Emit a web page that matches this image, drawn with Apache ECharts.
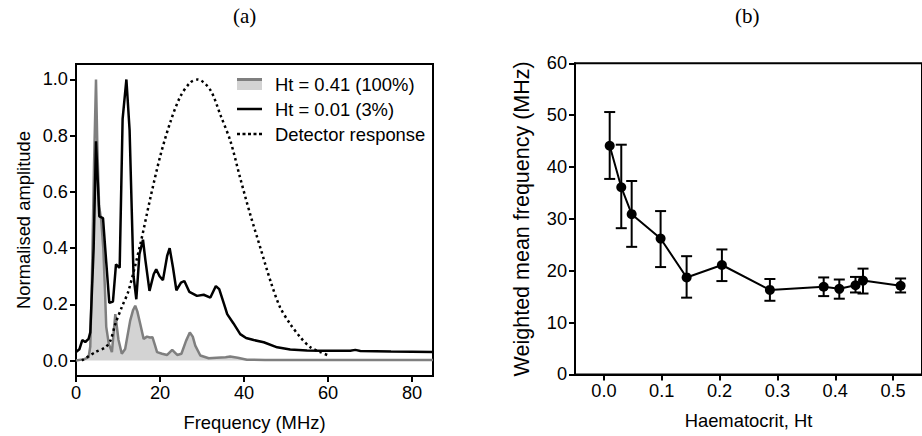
<!DOCTYPE html>
<html>
<head>
<meta charset="utf-8">
<script src="https://cdn.jsdelivr.net/npm/echarts@6/dist/echarts.min.js"></script>
<style>
html,body{margin:0;padding:0;background:#fff;}
#chart{width:922px;height:436px;}
</style>
</head>
<body>
<div id="chart"></div>
<script>
// ---------- Panel (a): spectra ----------
const freqHt041 = [0, 2, 3.0, 3.4, 3.8, 4.3, 4.76, 5.1, 5.5, 6.0, 6.5, 6.9, 7.2, 7.8, 8.55, 9.36, 10.1, 10.9, 11.7, 12.9, 13.6, 14.1, 14.6, 15.3, 16.1, 16.9, 17.6, 18.2, 18.8, 19.3, 20.5, 21.7, 22.9, 24.1, 25.1, 26.2, 27.1, 27.8, 28.4, 29.6, 31.6, 33.5, 35.6, 36.7, 38.5, 40.7, 45, 60, 85];
const ampHt041  = [0, 0.005, 0.012, 0.05, 0.3, 0.7, 1.0, 0.75, 0.55, 0.5, 0.4, 0.25, 0.12, 0.06, 0.03, 0.165, 0.075, 0.024, 0.041, 0.142, 0.18, 0.195, 0.175, 0.13, 0.077, 0.085, 0.082, 0.083, 0.055, 0.03, 0.024, 0.02, 0.038, 0.02, 0.024, 0.07, 0.1, 0.085, 0.053, 0.018, 0.008, 0.01, 0.012, 0.014, 0.01, 0.003, 0.002, 0.002, 0.002];

const freqHt001 = [0, 0.8, 1.5, 2.2, 3.0, 3.4, 4.2, 4.76, 5.55, 6.43, 7.2, 7.93, 8.8, 9.52, 10.4, 11.1, 12.0, 12.76, 13.7, 14.36, 15.1, 15.95, 16.5, 17.5, 18.5, 19.1, 19.9, 20.7, 21.7, 22.3, 23.1, 23.9, 25.0, 25.8, 27.0, 28.8, 30.4, 32.0, 33.3, 34.1, 35.5, 36.0, 37.5, 39.1, 40.5, 42.3, 44.7, 47.9, 51.0, 55, 58.2, 62, 65.3, 66.5, 67.7, 75, 85];
const ampHt001  = [0.03, 0.04, 0.073, 0.066, 0.077, 0.1, 0.4, 0.78, 0.513, 0.507, 0.35, 0.205, 0.21, 0.342, 0.33, 0.86, 1.0, 0.82, 0.30, 0.218, 0.378, 0.43, 0.36, 0.248, 0.307, 0.325, 0.30, 0.286, 0.372, 0.40, 0.33, 0.25, 0.277, 0.283, 0.244, 0.23, 0.234, 0.224, 0.265, 0.254, 0.189, 0.165, 0.132, 0.094, 0.08, 0.073, 0.065, 0.047, 0.039, 0.036, 0.035, 0.035, 0.035, 0.038, 0.034, 0.032, 0.03];

const freqDetector = [1.4, 4.6, 7.0, 8.2, 9.36, 10.9, 12.5, 15.3, 17.7, 20.1, 22.5, 24.8, 27.2, 29.0, 32.0, 34.4, 36.8, 39.1, 41.5, 43.9, 46.3, 48.6, 51.0, 53.4, 55.8, 58.2, 60.1];
const ampDetector  = [0.0, 0.03, 0.047, 0.071, 0.13, 0.19, 0.248, 0.413, 0.578, 0.73, 0.85, 0.938, 0.989, 1.0, 0.962, 0.873, 0.779, 0.649, 0.519, 0.401, 0.283, 0.189, 0.13, 0.083, 0.047, 0.03, 0.018];

const ampTicks  = [0, 0.2, 0.4, 0.6, 0.8, 1.0];
const freqTicks = [0, 20, 40, 60, 80];

// ---------- Panel (b): weighted mean frequency ----------
const haematocrit = [0.010, 0.030, 0.048, 0.098, 0.143, 0.204, 0.287, 0.380, 0.407, 0.435, 0.448, 0.513];
const meanFreq    = [44.1, 36.1, 30.9, 26.2, 18.7, 21.1, 16.3, 16.9, 16.5, 17.2, 18.1, 17.1];
const errLow      = [37.7, 28.2, 24.6, 20.7, 14.8, 18.0, 14.2, 15.1, 14.6, 15.8, 15.6, 15.8];
const errHigh     = [50.6, 44.3, 37.3, 31.5, 22.8, 24.1, 18.4, 18.7, 18.3, 18.8, 20.4, 18.5];
const htTicks     = [0, 0.1, 0.2, 0.3, 0.4, 0.5];

const FONT = '"Liberation Sans", Arial, sans-serif';
const zip = (a, b) => a.map((v, i) => [v, b[i]]);

const chart = echarts.init(document.getElementById('chart'), null, {renderer: 'svg'});

const axisLineStyle = {show: true, onZero: false, lineStyle: {color: '#000', width: 2}};
const tickStyle = {show: true, inside: false, length: 6, lineStyle: {color: '#000', width: 2}};
const labelStyle = {color: '#000', fontSize: 18.2, fontFamily: FONT, margin: 8};
const nameStyle = {color: '#000', fontSize: 18.4, fontFamily: FONT};

const greyIcon = new echarts.graphic.LinearGradient(0, 0, 0, 1, [
  {offset: 0, color: '#7f7f7f'}, {offset: 0.25, color: '#7f7f7f'},
  {offset: 0.25, color: '#d3d3d3'}, {offset: 1, color: '#d3d3d3'}
]);

const option = {
  backgroundColor: '#fff',
  animation: false,
  title: [
    {text: '(a)', left: 233, top: 5, padding: 0,
     textStyle: {fontFamily: '"Liberation Serif", "Times New Roman", serif', fontWeight: 'normal', fontSize: 21, color: '#000'}},
    {text: '(b)', left: 735, top: 5, padding: 0,
     textStyle: {fontFamily: '"Liberation Serif", "Times New Roman", serif', fontWeight: 'normal', fontSize: 21, color: '#000'}}
  ],
  legend: {
    orient: 'vertical', left: 237, top: 75, padding: 0,
    itemWidth: 25, itemHeight: 12, itemGap: 7,
    textStyle: {fontFamily: FONT, fontSize: 18.4, color: '#000', padding: [0, 0, 0, 8]},
    data: [
      {name: 'Ht = 0.41 (100%)', icon: 'rect', itemStyle: {color: greyIcon, borderWidth: 0}},
      {name: 'Ht = 0.01 (3%)', icon: 'path://M0,0h25v2.5h-25z', itemStyle: {color: '#000', borderWidth: 0}},
      {name: 'Detector response', icon: 'path://M0,0h3v2.5h-3z M5.5,0h3v2.5h-3z M11,0h3v2.5h-3z M16.5,0h3v2.5h-3z M22,0h3v2.5h-3z', itemStyle: {color: '#000', borderWidth: 0}}
    ]
  },
  grid: [
    {left: 76, top: 64, width: 357, height: 312, show: true, borderColor: '#000', borderWidth: 2, containLabel: false},
    {left: 575, top: 63.3, width: 356.4, height: 311.1, show: true, borderColor: '#000', borderWidth: 2, containLabel: false}
  ],
  xAxis: [
    {gridIndex: 0, type: 'value', min: 0, max: 85,
     name: 'Frequency (MHz)', nameLocation: 'middle', nameGap: 37, nameTextStyle: nameStyle,
     axisLine: axisLineStyle, axisTick: Object.assign({customValues: freqTicks}, tickStyle),
     axisLabel: Object.assign({customValues: freqTicks, formatter: v => String(v)}, labelStyle),
     splitLine: {show: false}},
    {gridIndex: 1, type: 'value', min: -0.05, max: 0.55,
     name: 'Haematocrit, Ht', nameLocation: 'middle', nameGap: 37, nameTextStyle: nameStyle,
     axisLine: axisLineStyle, axisTick: Object.assign({customValues: htTicks}, tickStyle),
     axisLabel: Object.assign({customValues: htTicks, formatter: v => v.toFixed(1)}, labelStyle),
     splitLine: {show: false}}
  ],
  yAxis: [
    {gridIndex: 0, type: 'value', min: -0.055, max: 1.055,
     name: 'Normalised amplitude', nameLocation: 'middle', nameRotate: 90, nameGap: 44, nameTextStyle: nameStyle,
     axisLine: axisLineStyle, axisTick: Object.assign({customValues: ampTicks}, tickStyle),
     axisLabel: Object.assign({customValues: ampTicks, formatter: v => v.toFixed(1)}, labelStyle),
     splitLine: {show: false}},
    {gridIndex: 1, type: 'value', min: 0, max: 60, interval: 10,
     name: 'Weighted mean frequency (MHz)', nameLocation: 'middle', nameRotate: 90, nameGap: 42,
     nameTextStyle: {color: '#000', fontSize: 21.5, fontFamily: FONT},
     axisLine: axisLineStyle, axisTick: tickStyle,
     axisLabel: Object.assign({formatter: v => String(v)}, labelStyle),
     splitLine: {show: false}}
  ],
  series: [
    {name: 'Ht = 0.41 (100%)', type: 'line', xAxisIndex: 0, yAxisIndex: 0,
     data: zip(freqHt041, ampHt041), showSymbol: false, symbol: 'none',
     lineStyle: {color: '#7f7f7f', width: 2.5}, itemStyle: {color: '#7f7f7f'},
     areaStyle: {color: '#d3d3d3', opacity: 1, origin: 0}, z: 2},
    {name: 'Ht = 0.01 (3%)', type: 'line', xAxisIndex: 0, yAxisIndex: 0,
     data: zip(freqHt001, ampHt001), showSymbol: false, symbol: 'none',
     lineStyle: {color: '#000', width: 2.5}, itemStyle: {color: '#000'}, z: 3},
    {name: 'Detector response', type: 'line', xAxisIndex: 0, yAxisIndex: 0,
     data: zip(freqDetector, ampDetector), showSymbol: false, symbol: 'none', smooth: 0.3,
     lineStyle: {color: '#000', width: 2.5, type: [2.5, 3.2]}, itemStyle: {color: '#000'}, z: 4},
    {name: 'Weighted mean frequency', type: 'line', xAxisIndex: 1, yAxisIndex: 1,
     data: zip(haematocrit, meanFreq), symbol: 'circle', symbolSize: 10, showSymbol: true,
     lineStyle: {color: '#000', width: 2}, itemStyle: {color: '#000'}, z: 4},
    {name: 'error', type: 'custom', xAxisIndex: 1, yAxisIndex: 1,
     data: haematocrit.map((h, i) => [h, errLow[i], errHigh[i]]),
     encode: {x: 0, y: [1, 2]}, z: 3,
     renderItem: function (params, api) {
       const x = api.value(0);
       const p1 = api.coord([x, api.value(1)]);
       const p2 = api.coord([x, api.value(2)]);
       const hw = 5.5;
       const st = {stroke: '#000', lineWidth: 2};
       return {type: 'group', children: [
         {type: 'line', shape: {x1: p1[0], y1: p1[1], x2: p2[0], y2: p2[1]}, style: st},
         {type: 'line', shape: {x1: p1[0] - hw, y1: p1[1], x2: p1[0] + hw, y2: p1[1]}, style: st},
         {type: 'line', shape: {x1: p2[0] - hw, y1: p2[1], x2: p2[0] + hw, y2: p2[1]}, style: st}
       ]};
     }}
  ]
};
chart.setOption(option);
</script>
</body>
</html>
